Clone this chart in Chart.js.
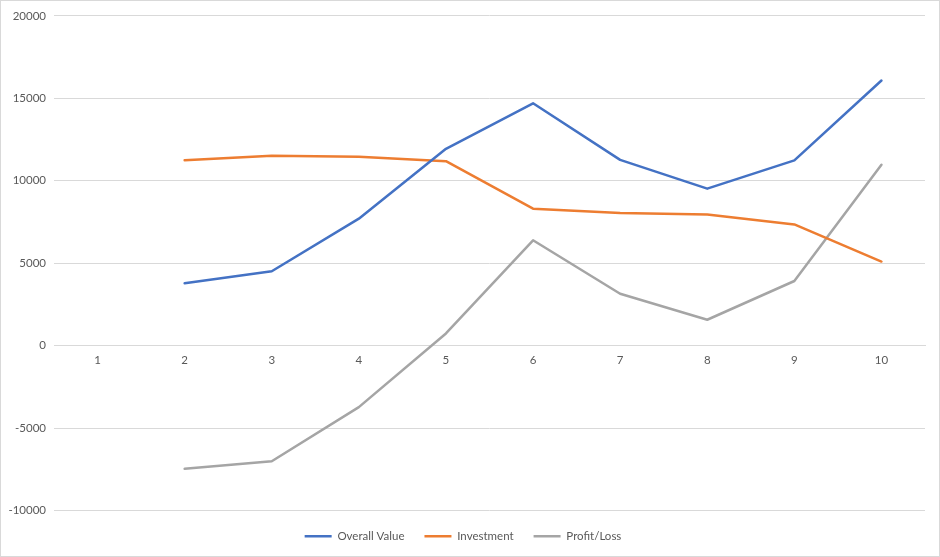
<!DOCTYPE html>
<html>
<head>
<meta charset="utf-8">
<script src="https://cdn.jsdelivr.net/npm/chart.js@4/dist/chart.umd.min.js"></script>
<style>
  html, body { margin: 0; padding: 0; background: #fff; }
  #wrap { width: 940px; height: 557px; box-sizing: border-box; border: 1px solid #d9d9d9; }
  canvas { display: block; }
</style>
</head>
<body>
<div id="wrap"><canvas id="chart" width="938" height="555"></canvas></div>
<script>
// values, category 1 has no data
var categories = ["1", "2", "3", "4", "5", "6", "7", "8", "9", "10"];
var overallValue = [null, 3780, 4510, 7700, 11940, 14700, 11270, 9520, 11240, 16080];
var investment   = [null, 11250, 11520, 11460, 11190, 8310, 8050, 7950, 7350, 5100];
var profitLoss   = [null, -7470, -7010, -3730, 740, 6390, 3150, 1570, 3920, 10970];

var textColor = "#595959";
var gridColor = "#d9d9d9";
Chart.defaults.font.family = "Lato, 'Liberation Sans', sans-serif";
Chart.defaults.font.size = 11.5;
Chart.defaults.color = textColor;

function lineSet(label, data, color) {
    return {
        label: label,
        data: data,
        borderColor: color,
        backgroundColor: color,
        borderWidth: 2.5,
        pointRadius: 0,
        pointHoverRadius: 0,
        tension: 0,
        borderJoinStyle: "round",
        borderCapStyle: "round",
        fill: false
    };
}

var ctx = document.getElementById("chart").getContext("2d");
var chart = new Chart(ctx, {
    type: "line",
    data: {
        labels: categories,
        datasets: [
            lineSet("Overall Value", overallValue, "#4472C4"),
            lineSet("Investment", investment, "#ED7D31"),
            lineSet("Profit/Loss", profitLoss, "#A5A5A5")
        ]
    },
    options: {
        responsive: false,
        animation: false,
        layout: { padding: { top: 10, right: 14, bottom: 4, left: 0 } },
        plugins: {
            tooltip: { enabled: false },
            legend: {
                position: "bottom",
                labels: {
                    usePointStyle: true,
                    pointStyle: "line",
                    pointStyleWidth: 27,
                    padding: 20,
                    color: textColor
                }
            }
        },
        scales: {
            x: {
                type: "category",
                offset: true,
                position: { y: 0 },
                grid: { display: false, drawTicks: false },
                border: { display: true, color: gridColor },
                ticks: { padding: 8, color: textColor, maxRotation: 0 }
            },
            y: {
                min: -10000,
                max: 20000,
                ticks: {
                    stepSize: 5000,
                    padding: 8,
                    color: textColor,
                    callback: function (v) { return String(v); }
                },
                grid: { color: gridColor, drawTicks: false },
                border: { display: false },
                afterFit: function (scale) { scale.width = 53; }
            }
        }
    }
});
</script>
</body>
</html>
